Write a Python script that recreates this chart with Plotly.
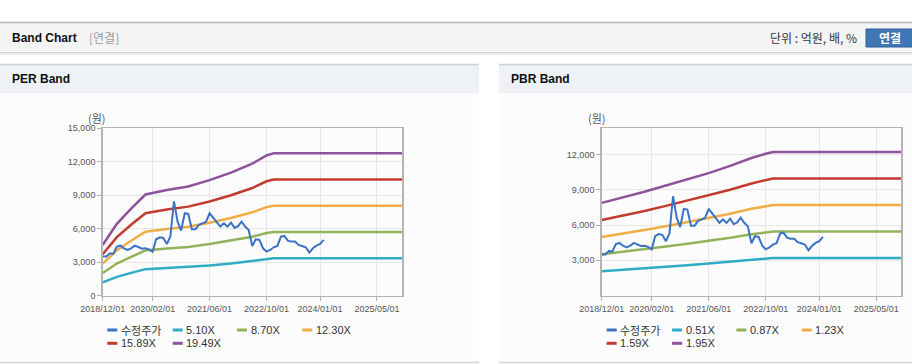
import plotly.graph_objects as go
import pandas as pd

W, H = 912, 364

# ---------------- data ----------------
price_start = "2018-12-01"
price = [3500, 3500, 3800, 3740, 4390, 4480, 4240, 4090, 4240, 4480,
         4360, 4210, 4240, 4150, 3940, 5050, 5230, 5170, 4630, 5290,
         8450, 6630, 5830, 7380, 7320, 5950, 5950, 6340, 6480, 6600,
         7380, 7020, 6630, 6190, 6480, 6190, 6540, 6070, 6250, 6630,
         6190, 5890, 4450, 5050, 4990, 4240, 3940, 4090, 4330, 4450,
         5290, 5350, 4930, 4840, 4840, 4540, 4450, 4330, 3860, 4240,
         4480, 4630, 4990]

band_dates = ["2018-12-01", "2019-04-01", "2019-08-01", "2019-12-01", "2020-06-01",
              "2020-12-01", "2021-06-01", "2021-12-01", "2022-06-01", "2022-10-01",
              "2022-12-01", "2025-12-01"]
eps = [233, 330, 400, 465, 486, 502, 531, 566, 607, 645, 655, 655]
bps = [4046, 4200, 4370, 4530, 4800, 5080, 5340, 5660, 6000, 6190, 6260, 6260]

per_mult = [5.10, 8.70, 12.30, 15.89, 19.49]
per_names = ["5.10X", "8.70X", "12.30X", "15.89X", "19.49X"]
pbr_mult = [0.51, 0.87, 1.23, 1.59, 1.95]
pbr_names = ["0.51X", "0.87X", "1.23X", "1.59X", "1.95X"]
price_name = "수정주가"

x_tick_vals = ["2018-12-01", "2020-02-01", "2021-06-01", "2022-10-01", "2024-01-01", "2025-05-01"]
x_tick_text = ["2018/12/01", "2020/02/01", "2021/06/01", "2022/10/01", "2024/01/01", "2025/05/01"]
per_y_ticks = [0, 3000, 6000, 9000, 12000, 15000]
pbr_y_ticks = [3000, 6000, 9000, 12000]

# ---------------- style ----------------
PRICE_C = "#3a72c6"
BAND_C = ["#30abc3", "#93b35b", "#f0ad45", "#c23b2e", "#8d539b"]
FONT = "Liberation Sans, Arial, Noto Sans CJK KR, sans-serif"
KFONT = "Noto Sans CJK KR, Liberation Sans, sans-serif"


def px(x):
    return x / W


def py(y):
    return 1 - y / H


price_dates = pd.date_range(price_start, periods=len(price), freq="MS")

fig = go.Figure()

panels = [
    dict(xa="x", ya="y", mult=per_mult, names=per_names, base=eps),
    dict(xa="x2", ya="y2", mult=pbr_mult, names=pbr_names, base=bps),
]
for p in panels:
    for m, nm, c in zip(p["mult"], p["names"], BAND_C):
        fig.add_trace(go.Scatter(
            x=band_dates, y=[m * b for b in p["base"]], name=nm, mode="lines",
            line=dict(color=c, width=2.5), xaxis=p["xa"], yaxis=p["ya"],
            showlegend=False, hoverinfo="skip"))
    fig.add_trace(go.Scatter(
        x=price_dates, y=price, name=price_name, mode="lines",
        line=dict(color=PRICE_C, width=2), xaxis=p["xa"], yaxis=p["ya"],
        showlegend=False, hoverinfo="skip"))

top, bot = 128.3, 295.6
common_x = dict(type="date", range=["2018-12-01", "2025-12-01"], tickvals=x_tick_vals,
                ticktext=x_tick_text, tickangle=0, showgrid=True, gridcolor="#e6e6e6",
                gridwidth=1, showline=True, mirror=True, linecolor="#b4b4b4", linewidth=1.5,
                ticks="outside", ticklen=4, tickcolor="#b4b4b4", automargin=False,
                tickfont=dict(size=9, color="#555", family=FONT), zeroline=False)
common_y = dict(showgrid=True, gridcolor="#e6e6e6", gridwidth=1, showline=True, mirror=True,
                linecolor="#b4b4b4", linewidth=1.5, ticks="outside", ticklen=4,
                tickcolor="#b4b4b4", tickformat=",", zeroline=False, automargin=False,
                tickfont=dict(size=9, color="#555", family=FONT))

fig.update_layout(
    template="none",
    width=W, height=H, autosize=False,
    margin=dict(l=0, r=0, t=0, b=0, pad=0, autoexpand=False),
    paper_bgcolor="white", plot_bgcolor="white", showlegend=False,
    font=dict(family=FONT, color="#333"),
    xaxis=dict(domain=[px(102.7), px(402)], anchor="y", **common_x),
    yaxis=dict(domain=[py(bot), py(top)], anchor="x", range=[0, 15000],
               tickvals=per_y_ticks, **common_y),
    xaxis2=dict(domain=[px(601.7), px(901.3)], anchor="y2", **common_x),
    yaxis2=dict(domain=[py(bot), py(top)], anchor="x2", range=[0, 14230],
                tickvals=pbr_y_ticks, **common_y),
)

shapes = []
ann = []


def rect(x0, y0, x1, y1, fill, line=None, lw=0):
    shapes.append(dict(type="rect", xref="paper", yref="paper", x0=px(x0), x1=px(x1),
                       y0=py(y1), y1=py(y0), fillcolor=fill, layer="below",
                       line=dict(color=line or fill, width=lw)))


def hline(x0, x1, y, color, w=1, layer="below"):
    shapes.append(dict(type="line", xref="paper", yref="paper", x0=px(x0), x1=px(x1),
                       y0=py(y), y1=py(y), line=dict(color=color, width=w), layer=layer))


def text(x, y, s, size=12, color="#333", anchor="left", bold=False, family=FONT):
    ann.append(dict(xref="paper", yref="paper", x=px(x), y=py(y), text=f"<b>{s}</b>" if bold else s,
                    showarrow=False, xanchor=anchor, yanchor="middle", borderpad=0,
                    font=dict(size=size, color=color, family=family)))


# header
rect(0, 23, 912, 52, "#f4f4f4")
hline(0, 912, 22.5, "#b9b9b9", 1.5)
hline(0, 912, 52.5, "#d2d2d2", 1)
hline(0, 912, 54, "#ececec", 2)
text(11, 38, "Band Chart", 12, "#111", bold=True)
text(88, 38, "[연결]", 12, "#9a9a9a", family=KFONT)
text(858, 38, "단위 : 억원, 배, %", 12, "#333", anchor="right", family=KFONT)
rect(866, 29, 916, 47, "#3f76b5", "#2f6099", 1)
text(890, 38, "연결", 12, "white", anchor="center", bold=True, family=KFONT)

# panels
for x0, x1, title in [(0, 479, "PER Band"), (499, 912, "PBR Band")]:
    rect(x0, 93, x1, 362, "#fcfcfc")
    rect(x0, 64, x1, 93, "#eef2f7")
    hline(x0, x1, 64.5, "#d0d0d0", 1.5)
    hline(x0, x1, 362.5, "#d6d6d6", 1.5)
    text(x0 + 11, 79, title, 12, "#111", bold=True)

# unit labels
text(97, 118, "(원)", 11, "#555", anchor="center", family=KFONT)
text(597, 118, "(원)", 11, "#555", anchor="center", family=KFONT)

# legends (line sample + label)
legend_cols = [107.3, 172.7, 237.0, 302.3]
rows = [330, 343.3]
for dx, names in [(0, per_names), (499.4, pbr_names)]:
    entries = [(price_name, PRICE_C)] + list(zip(names, BAND_C))
    for i, (nm, c) in enumerate(entries):
        r, col = divmod(i, 4)
        x0 = legend_cols[col] + dx
        y = rows[r]
        shapes.append(dict(type="line", xref="paper", yref="paper", x0=px(x0), x1=px(x0 + 10),
                           y0=py(y), y1=py(y), line=dict(color=c, width=3)))
        text(x0 + 12.5, y, nm, 11, "#333", family=KFONT if nm == price_name else FONT)

fig.update_layout(shapes=shapes, annotations=ann)

fig.write_html("out.html", post_script="document.body.style.margin='0';",
               config={"displayModeBar": False, "staticPlot": True})
